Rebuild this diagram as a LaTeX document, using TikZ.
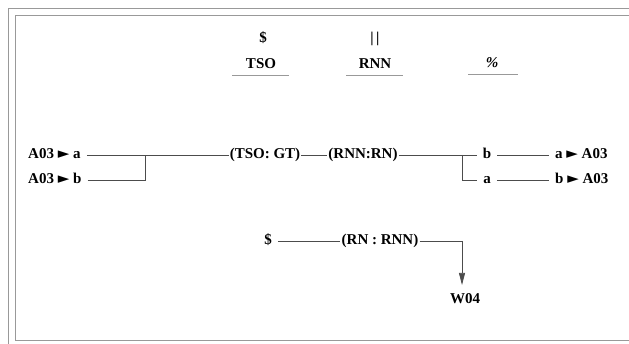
\documentclass[tikz,border=0pt]{standalone}
\usepackage{fontspec}
\setmainfont{Liberation Serif}
\newfontfamily\symfont{DejaVu Sans}
\usetikzlibrary{calc}
\usetikzlibrary{arrows.meta}
\newcommand{\ptr}{{\symfont\fontsize{15}{15}\selectfont ►}}

\begin{document}
\begin{tikzpicture}[x=1pt, y=-1pt, font=\fontsize{15}{17}\selectfont\bfseries,
    lbl/.style={inner sep=1pt, text height=10pt, text depth=2.5pt},
    letter/.style={lbl, inner xsep=6pt},
    wire/.style={black!70, line width=0.7pt},
    frame/.style={black!40, line width=0.9pt}]
            \pgfmathsetmacro{\rowA}{155}
            \pgfmathsetmacro{\rowB}{180}
            \pgfmathsetmacro{\rowC}{241}

            \useasboundingbox (0,0) rectangle (629,344);

            % scanned frame
            \draw [frame] (629,8) -- (8,8) -- (8,344);
            \draw [frame] (629,15) -- (15,15) -- (15,340) -- (629,340);

            % heading
            \node [lbl] (dol) at (263,39) {\$};
            \node [lbl] (bars) at (375,39) {|\,|};
            \node [lbl] (tso) at (261,65) {TSO};
            \node [lbl] (rnn) at (375,65) {RNN};
            \node [lbl] (pct) at (492,64) {\textit{\%}};
            \draw [frame] ($(tso.south)+(-29,3)$) -- ($(tso.south)+(28,3)$);
            \draw [frame] ($(rnn.south)+(-29,3)$) -- ($(rnn.south)+(28,3)$);
            \draw [frame] ($(pct.south)+(-24,3)$) -- ($(pct.south)+(26,3)$);

            % inputs
            \node [letter, anchor=west] (ina) at (22,\rowA) {A03 \ptr\ a};
            \node [letter, anchor=west] (inb) at (22,\rowB) {A03 \ptr\ b};
            \coordinate (jl) at (145,\rowA);

            % rules
            \node [lbl] (tsogt) at (265,\rowA) {(TSO: GT)};
            \node [lbl] (rnnrn) at (363,\rowA) {(RNN:RN)};
            \coordinate (jr) at (462,\rowA);

            % outputs
            \node [letter] (outb) at (487,\rowA) {b};
            \node [letter] (outa) at (487,\rowB) {a};
            \node [letter, anchor=west] (resa) at (549,\rowA) {a \ptr\ A03};
            \node [letter, anchor=west] (resb) at (549,\rowB) {b \ptr\ A03};

            \draw [wire] (ina) -- (tsogt);
            \draw [wire] (inb) -| (jl);
            \draw [wire] (tsogt) -- (rnnrn);
            \draw [wire] (rnnrn) -- (outb);
            \draw [wire] (jr) |- (outa);
            \draw [wire] (outb) -- (resa);
            \draw [wire] (outa) -- (resb);

            % last rule
            \node [letter] (dolc) at (268,\rowC) {\$};
            \node [lbl] (rnrnn) at (380,\rowC) {(RN : RNN)};
            \node [lbl] (w04) at (465,300) {W04};
            \coordinate (jd) at (462,\rowC);
            \coordinate (tip) at (462,285);

            \draw [wire] (dolc) -- (rnrnn);
            \draw [wire] (rnrnn) -- (jd);
            \draw [wire, -{Triangle[length=12pt, width=6pt]}] (jd) -- (tip);
        \end{tikzpicture}
\end{document}
